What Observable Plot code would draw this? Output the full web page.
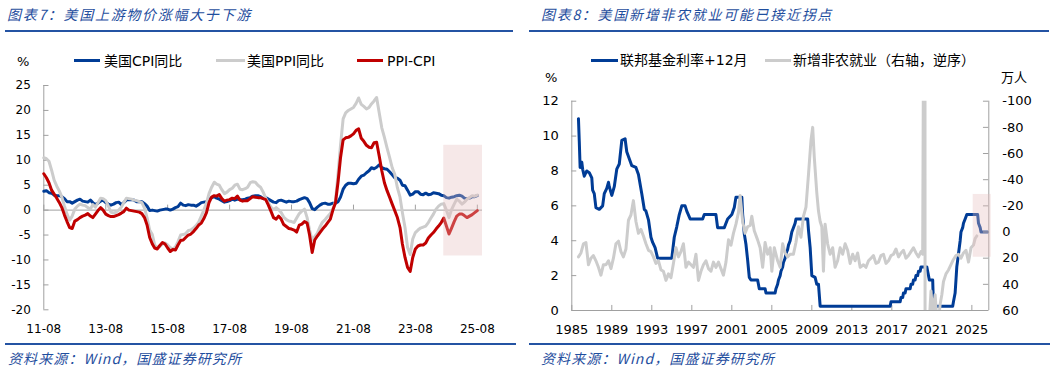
<!DOCTYPE html>
<html><head><meta charset="utf-8">
<script src="https://cdn.jsdelivr.net/npm/d3@7"></script>
<script src="https://cdn.jsdelivr.net/npm/@observablehq/plot@0.6"></script>
<style>
body{margin:0;background:#fff;}
#root{position:relative;width:1056px;height:373px;overflow:hidden;font-family:"DejaVu Sans","Noto Sans CJK SC",sans-serif;color:#000;}
.abs{position:absolute;white-space:nowrap;}
.title{font-family:"Noto Sans CJK SC";font-style:italic;font-size:14px;color:#1f4e9e;letter-spacing:1.7px;line-height:16px;}
.src{font-family:"Noto Sans CJK SC";font-style:italic;font-size:14px;color:#1f4e9e;letter-spacing:1.1px;line-height:16px;}
.rule{position:absolute;height:2px;background:#2453a3;}
.leg{font-size:14px;line-height:16px;font-family:"DejaVu Sans","Noto Sans CJK SC",sans-serif;}
.sw{position:absolute;height:3px;}
.unit{font-size:13px;line-height:14px;font-family:"DejaVu Sans","Noto Sans CJK SC",sans-serif;}
.plot{position:absolute;}
</style></head>
<body><div id="root"></div>
<script>
// ---------- Left chart data (monthly, starting 2011-08) ----------
const leftStart = "2011-08";
const cpi = [
3.8,3.9,3.5,3.4,3.0,
2.9,2.9,2.7,2.3,1.7,1.7,1.4,1.7,2.0,2.2,1.8,1.7,
1.6,2.0,1.5,1.1,1.4,1.8,2.0,1.5,1.2,1.0,1.2,1.5,
1.6,1.1,1.5,2.0,2.1,2.1,2.0,1.7,1.7,1.7,1.3,0.8,
-0.1,0.0,-0.1,-0.2,0.0,0.1,0.2,0.2,0.0,0.2,0.5,0.7,
1.4,1.0,0.9,1.1,1.0,1.0,0.8,1.1,1.5,1.6,1.7,2.1,
2.5,2.7,2.4,2.2,1.9,1.6,1.7,1.9,2.2,2.0,2.2,2.1,
2.1,2.2,2.4,2.5,2.8,2.9,2.9,2.7,2.3,2.5,2.2,1.9,
1.6,1.5,1.9,2.0,1.8,1.6,1.8,1.7,1.7,1.8,2.1,2.3,
2.5,2.3,1.5,0.3,0.1,0.6,1.0,1.3,1.4,1.2,1.2,1.4,
1.4,1.7,2.6,4.2,5.0,5.4,5.4,5.3,5.4,6.2,6.8,7.0,
7.5,7.9,8.5,8.3,8.6,9.1,8.5,8.3,8.2,7.7,7.1,6.5,
6.4,6.0,5.0,4.9,4.0,3.0,3.2,3.7,3.7,3.2,3.1,3.4,
3.1,3.2,3.5,3.4,3.3,3.0,2.9,2.5,2.4,2.6,2.7,2.9,
3.0,2.8,2.4,2.3,2.4,2.7,2.7,2.9];
const ppi = [
10.5,10.3,9.8,8.0,6.0,
4.8,3.8,2.6,0.8,-0.8,-2.0,-1.2,0.2,0.8,1.2,1.0,0.9,
0.5,0.2,1.1,0.6,1.5,2.4,2.3,1.9,0.8,-0.4,-0.6,-0.4,
0.0,0.6,1.5,2.4,2.3,2.2,2.0,1.9,1.7,1.5,0.4,-1.5,
-4.0,-4.9,-7.0,-7.5,-7.3,-6.8,-6.6,-7.0,-7.5,-7.8,-7.4,-6.3,
-5.0,-4.9,-4.7,-4.1,-4.0,-3.6,-3.1,-2.4,-1.2,0.0,1.4,3.3,
4.6,5.6,5.2,5.0,4.1,3.3,3.6,4.1,4.4,5.0,5.2,4.2,
4.1,4.3,4.6,5.5,5.7,5.6,5.0,4.6,3.6,2.4,1.4,0.6,
0.1,0.5,0.1,-0.5,-1.4,-1.9,-2.2,-2.3,-2.5,-1.6,-0.7,-0.2,
0.2,-1.5,-4.0,-6.0,-5.3,-4.6,-3.4,-2.4,-1.9,-1.3,-0.7,0.2,
1.8,7.5,13.0,18.3,19.5,20.0,20.3,20.6,21.4,22.5,21.2,20.8,
20.3,20.6,21.3,21.9,22.6,19.5,16.5,14.6,12.5,10.6,8.5,7.2,
4.5,2.6,-0.5,-3.5,-7.5,-8.9,-5.8,-4.5,-4.0,-3.6,-3.4,-3.2,
-2.5,-1.6,-0.8,0.2,0.8,1.2,1.3,0.0,-1.5,0.1,1.2,2.2,
1.8,1.2,1.6,2.2,2.5,2.9,2.8,3.0];
const spread = [
7.3,6.5,5.5,4.0,3.2,
2.4,1.5,0.5,-1.0,-2.3,-3.5,-3.7,-2.2,-1.9,-1.5,-1.2,-1.0,
-0.7,-1.2,-1.5,-0.8,-0.1,0.5,0.0,-0.8,-1.1,-1.3,-1.3,-1.1,
-0.9,-0.6,-0.3,0.4,0.0,-0.1,-0.2,-0.3,-0.4,-0.7,-1.5,-3.0,
-5.5,-6.8,-7.6,-7.8,-7.1,-6.5,-6.8,-7.6,-8.3,-7.9,-8.0,-7.0,
-6.1,-6.0,-5.5,-5.0,-4.8,-4.3,-3.7,-3.0,-2.6,-1.7,-0.5,1.5,
2.6,2.9,2.8,3.1,2.3,1.8,2.0,2.1,2.4,2.3,2.8,2.0,
1.8,1.9,1.9,2.3,2.7,2.6,2.5,2.5,2.3,2.1,1.0,-0.2,
-1.5,-1.8,-1.2,-1.8,-2.9,-3.3,-3.7,-3.8,-4.0,-4.4,-3.0,-2.8,
-2.3,-2.6,-5.0,-8.5,-6.0,-5.2,-4.5,-3.8,-3.2,-2.5,-1.8,0.0,
1.5,5.8,10.5,14.1,14.5,14.6,14.9,15.3,16.0,16.3,14.4,13.8,
13.0,12.6,12.5,13.5,13.6,10.8,7.9,5.5,3.9,2.6,1.2,-0.1,
-1.5,-3.5,-6.8,-9.5,-11.5,-12.3,-9.5,-7.8,-7.2,-7.0,-7.0,-6.6,
-5.6,-5.0,-4.5,-3.8,-3.2,-2.5,-1.6,-3.2,-4.8,-3.6,-2.3,-1.2,
-0.8,-0.8,-1.1,-1.5,-1.2,-0.9,-0.5,-0.1];
const leftXTicks = ["2011-08","2013-08","2015-08","2017-08","2019-08","2021-08","2023-08","2025-08"];
const leftYTicks = [-20,-15,-10,-5,0,5,10,15,20,25];
const leftShade = {from: "2024-07", to: "2025-10", low: -9.2, high: 13};
const leftNames = ["美国CPI同比", "美国PPI同比", "PPI-CPI"];

// ---------- Right chart data ----------
const fedFunds12 = [
["1985-09",11.0],["1985-10",9.7],["1985-11",8.2],["1986-01",8.5],["1986-02",8.1],["1986-04",7.7],["1986-07",8.0],["1986-10",7.9],
["1987-01",7.6],["1987-02",6.9],["1987-04",6.7],["1987-06",5.9],["1987-10",5.8],["1988-02",6.0],["1988-04",6.7],["1988-07",7.0],
["1988-09",7.35],["1988-10",7.1],["1989-01",6.6],["1989-04",7.1],["1989-07",8.1],["1989-10",8.4],["1990-01",9.75],["1990-05",9.85],
["1990-07",9.1],["1990-10",8.7],["1991-01",8.3],["1991-06",8.2],["1991-09",7.8],["1992-01",6.7],["1992-04",5.8],["1992-06",5.7],
["1992-09",5.2],["1992-12",4.2],["1993-02",3.9],["1993-05",3.6],["1993-08",3.0],["1995-01",3.0],["1995-04",4.2],["1995-07",4.8],
["1995-10",5.5],["1996-01",6.0],["1996-05",6.0],["1996-07",5.7],["1996-11",5.25],["1998-02",5.25],["1998-04",5.5],["1999-06",5.5],
["1999-08",4.75],["2000-04",4.75],["2000-08",5.25],["2001-01",5.5],["2001-04",5.9],["2001-06",6.5],["2002-01",6.5],["2002-02",5.5],
["2002-04",4.4],["2002-06",3.8],["2002-08",2.9],["2002-10",1.9],["2002-12",1.75],["2003-08",1.75],["2003-10",1.25],["2004-05",1.25],
["2004-06",1.0],["2005-05",1.0],["2005-06",1.25],["2005-08",1.5],["2005-09",1.75],["2005-11",2.0],["2005-12",2.25],["2006-02",2.5],
["2006-03",2.75],["2006-05",3.0],["2006-06",3.25],["2006-08",3.5],["2006-09",3.75],["2006-11",4.0],["2006-12",4.25],["2007-01",4.5],
["2007-03",4.75],["2007-05",5.0],["2007-06",5.25],["2008-08",5.25],["2008-09",4.6],["2008-11",3.6],["2009-01",2.0],["2009-05",1.9],
["2009-07",1.5],["2009-09",1.5],["2009-11",0.25],["2016-11",0.25],["2016-12",0.5],["2017-11",0.5],["2017-12",0.75],["2018-02",0.75],
["2018-03",1.0],["2018-05",1.0],["2018-06",1.25],["2018-11",1.25],["2018-12",1.5],["2019-02",1.5],["2019-03",1.75],["2019-05",1.75],
["2019-06",2.0],["2019-08",2.0],["2019-09",2.25],["2019-11",2.25],["2019-12",2.5],["2020-07",2.5],["2020-08",2.25],["2020-09",2.0],
["2020-10",1.75],["2021-02",1.75],["2021-03",0.25],["2023-02",0.25],["2023-03",0.5],["2023-05",1.0],["2023-06",1.75],["2023-07",2.5],
["2023-09",3.25],["2023-11",4.0],["2023-12",4.5],["2024-02",4.75],["2024-03",5.0],["2024-05",5.25],["2024-07",5.5],["2025-08",5.5],
["2025-09",5.0],["2025-11",4.75],["2025-12",4.5],["2026-08",4.5]];
const payrolls = [
["1985-09",19],["1985-12",16],["1986-03",9],["1986-06",8],["1986-09",25],["1986-12",20],
["1987-03",18],["1987-06",22],["1987-09",27],["1987-12",33],["1988-03",25],["1988-06",25],["1988-09",22],["1988-12",28],
["1989-03",20],["1989-06",9],["1989-09",7],["1989-12",15],["1990-03",19],["1990-06",13],["1990-09",-9],["1990-12",-13],
["1991-03",-24],["1991-06",-8],["1991-09",1],["1991-12",-2],["1992-03",3],["1992-06",9],["1992-09",14],["1992-12",15],
["1993-03",19],["1993-06",24],["1993-09",22],["1993-12",29],["1994-03",30],["1994-06",37],["1994-09",32],["1994-12",35],
["1995-03",24],["1995-06",12],["1995-09",19],["1995-12",15],["1996-03",9],["1996-06",27],["1996-09",23],["1996-12",25],
["1997-03",27],["1997-06",17],["1997-09",37],["1997-12",30],["1998-03",25],["1998-06",22],["1998-09",28],["1998-12",30],
["1999-03",23],["1999-06",27],["1999-09",23],["1999-12",28],["2000-03",33],["2000-06",23],["2000-09",6],["2000-12",10],
["2001-03",1],["2001-06",-6],["2001-09",-15],["2001-11",-28],["2002-02",-8],["2002-05",1],["2002-08",-4],["2002-11",-5],
["2003-01",-12],["2003-04",-1],["2003-08",6],["2003-11",12],["2004-02",27],["2004-05",8],["2004-08",17],["2004-11",12],
["2005-01",30],["2005-04",12],["2005-08",22],["2005-11",27],["2006-02",9],["2006-05",16],["2006-08",19],["2006-11",17],
["2007-03",17],["2007-06",8],["2007-09",-4],["2007-12",4],["2008-03",-12],["2008-06",-19],["2008-09",-44],["2008-12",-70],
["2009-02",-80],["2009-04",-57],["2009-07",-30],["2009-09",-16],["2009-11",-8],["2010-01",-4],["2010-03",30],["2010-05",-6],
["2010-08",9],["2010-11",17],["2011-02",12],["2011-05",27],["2011-08",22],["2011-11",12],["2012-02",17],["2012-05",9],
["2012-08",14],["2012-11",24],["2013-02",17],["2013-05",22],["2013-08",16],["2013-11",27],["2014-03",25],["2014-06",27],
["2014-09",22],["2014-12",20],["2015-03",18],["2015-06",24],["2015-09",23],["2015-12",18],["2016-03",17],["2016-06",24],
["2016-09",22],["2016-12",18],["2017-03",17],["2017-06",13],["2017-09",19],["2017-12",16],["2018-03",14],["2018-06",20],
["2018-09",18],["2018-12",15],["2019-03",12],["2019-06",16],["2019-09",19],["2019-12",15],["2020-02",17],["2020-03",-140],
["2020-04",-2050],["2020-05",270],["2020-06",480],["2020-08",150],["2020-10",68],["2020-12",45],["2021-02",62],["2021-05",48],
["2021-08",75],["2021-11",55],["2022-01",48],["2022-03",38],["2022-06",32],["2022-09",29],["2022-12",25],["2023-03",21],
["2023-06",18],["2023-09",17],["2023-12",20],["2024-03",16],["2024-06",14],["2024-09",23],["2024-12",12],["2025-03",10],
["2025-05",5],["2025-07",3]];
const rightXTicks = ["1985","1989","1993","1997","2001","2005","2009","2013","2017","2021","2025"];
const rightLeftTicks = [0,2,4,6,8,10,12];
const rightRightTicks = [-100,-80,-60,-40,-20,0,20,40,60];
const rightShade = {from: "2025-02-20", to: "2026-12-08", low: 19.3, high: -28.7};
const rightNames = ["联邦基金利率+12月", "新增非农就业（右轴，逆序）"];

// ---------- Styles ----------
const BLUE = "#003c96", GREY = "#cccccc", RED = "#c00000", AXIS = "#a0a0a0";
const SHADE = "#e6bcbc";

const root = document.getElementById("root");
function el(cls, css, html){ const d=document.createElement("div"); d.className=cls; d.style.cssText=css; if(html!=null) d.innerHTML=html; root.appendChild(d); return d; }

// titles, rules, sources
el("abs title","left:7px;top:6px;","图表7：美国上游物价涨幅大于下游");
el("abs title","left:541px;top:6px;","图表8：美国新增非农就业可能已接近拐点");
el("rule","left:5px;top:30px;width:508px;");
el("rule","left:529px;top:30px;width:520px;");
el("rule","left:5px;top:343px;width:511px;");
el("rule","left:529px;top:343px;width:521px;");
el("abs src","left:8px;top:350px;","资料来源：Wind，国盛证券研究所");
el("abs src","left:541px;top:350px;","资料来源：Wind，国盛证券研究所");

// legends
el("sw",`left:74px;top:59px;width:26px;background:${BLUE};`);
el("abs leg","left:104px;top:53px;",leftNames[0]);
el("sw",`left:216px;top:59px;width:29px;background:${GREY};`);
el("abs leg","left:247px;top:53px;",leftNames[1]);
el("sw",`left:357px;top:59px;width:26px;background:${RED};`);
el("abs leg","left:387px;top:53px;",leftNames[2]);
el("sw",`left:591px;top:59px;width:27px;background:${BLUE};`);
el("abs leg","left:620px;top:52px;",rightNames[0]);
el("sw",`left:765px;top:59px;width:26px;background:${GREY};`);
el("abs leg","left:793px;top:52px;",rightNames[1]);
el("abs unit","left:17px;top:55px;","%");
el("abs unit","left:545px;top:71px;","%");
el("abs unit","left:1001px;top:71px;","万人");

const pm = d3.utcParse("%Y-%m"), py = d3.utcParse("%Y"), pd = d3.utcParse("%Y-%m-%d");

// ---------- Left plot ----------
const start = pm(leftStart);
const rows = cpi.map((v,i)=>({date:d3.utcMonth.offset(start,i), cpi:v, ppi:ppi[i], spread:spread[i]}));
const xDomL = [start, pm("2025-10")];
const lTicks = leftXTicks.map(pm);
const left = Plot.plot({
  width:500, height:270, marginLeft:43.3, marginRight:18, marginTop:15, marginBottom:30.7,
  x:{type:"utc", domain:xDomL, label:null},
  y:{domain:[-20,25], label:null},
  style:{background:"transparent", fontFamily:'"DejaVu Sans", sans-serif', fontSize:"12px", color:"#000"},
  marks:[
    Plot.ruleX([xDomL[0]], {y1:-20, y2:25, stroke:AXIS}),
    Plot.ruleY([0], {stroke:AXIS}),
    Plot.ruleY(leftYTicks, {x1:xDomL[0], x2:d3.utcMonth.offset(xDomL[0],2), stroke:AXIS}),
    Plot.ruleX(lTicks, {y1:0, y2:1, stroke:AXIS}),
    Plot.axisY({ticks:leftYTicks, tickSize:0, tickPadding:13, tickFormat:d=>String(d), label:null}),
    Plot.axisX({ticks:lTicks, tickSize:0, tickPadding:15, tickFormat:d3.utcFormat("%y-%m"), label:null}),
    Plot.line(rows, {x:"date", y:"cpi", stroke:BLUE, strokeWidth:3}),
    Plot.line(rows, {x:"date", y:"ppi", stroke:GREY, strokeWidth:3}),
    Plot.line(rows, {x:"date", y:"spread", stroke:RED, strokeWidth:3}),
    Plot.rect([leftShade], {x1:d=>pm(d.from), x2:d=>pm(d.to), y1:"low", y2:"high", fill:SHADE, fillOpacity:0.35})
  ]
});
left.classList.add("plot"); left.style.left="0px"; left.style.top="70px";
root.appendChild(left);

// ---------- Right plots (dual axis, two overlaid SVGs) ----------
const xDomR = [py("1985"), pd("2026-09-12")];
const rTicks = rightXTicks.map(py);
const ffRows = fedFunds12.map(([d,v])=>({date:pm(d), v}));
const nfRows = payrolls.map(([d,v])=>({date:pm(d), v}));
const common = {width:528, height:270, marginLeft:43.3, marginRight:67.7, marginTop:30.7, marginBottom:30,
  style:{background:"transparent", fontFamily:'"DejaVu Sans", sans-serif', fontSize:"13px", color:"#000"}};
const rightA = Plot.plot({
  ...common,
  x:{type:"utc", domain:xDomR, label:null},
  y:{domain:[0,12], label:null},
  marks:[
    Plot.ruleX([xDomR[0]], {y1:0, y2:12, stroke:AXIS}),
    Plot.ruleY([0], {stroke:AXIS}),
    Plot.ruleY(rightLeftTicks, {x1:xDomR[0], x2:pm("1985-07"), stroke:AXIS}),
    Plot.ruleX(rTicks, {y1:0, y2:0.29, stroke:AXIS}),
    Plot.axisY({ticks:rightLeftTicks, tickSize:0, tickPadding:13, tickFormat:d=>String(d), label:null}),
    Plot.axisX({ticks:rTicks, tickSize:0, tickPadding:14, tickFormat:d3.utcFormat("%Y"), label:null}),
    Plot.line(ffRows, {x:"date", y:"v", stroke:BLUE, strokeWidth:3})
  ]
});
rightA.classList.add("plot"); rightA.style.left="528px"; rightA.style.top="70px";
root.appendChild(rightA);
const rightB = Plot.plot({
  ...common,
  x:{type:"utc", domain:xDomR, label:null, axis:null},
  y:{domain:[60,-100], label:null},
  marks:[
    Plot.line(nfRows, {x:"date", y:"v", stroke:GREY, strokeWidth:3, clip:true}),
    Plot.ruleX([xDomR[1]], {y1:60, y2:-100, stroke:AXIS}),
    Plot.ruleY(rightRightTicks, {x1:pm("2026-03"), x2:xDomR[1], stroke:AXIS}),
    Plot.axisY({anchor:"right", ticks:rightRightTicks, tickSize:0, tickPadding:13.5, tickFormat:d=>String(d), label:null}),
    Plot.rect([rightShade], {x1:d=>pd(d.from), x2:d=>pd(d.to), y1:"low", y2:"high", fill:SHADE, fillOpacity:0.35})
  ]
});
rightB.classList.add("plot"); rightB.style.left="528px"; rightB.style.top="70px";
root.appendChild(rightB);
</script>
</body></html>
